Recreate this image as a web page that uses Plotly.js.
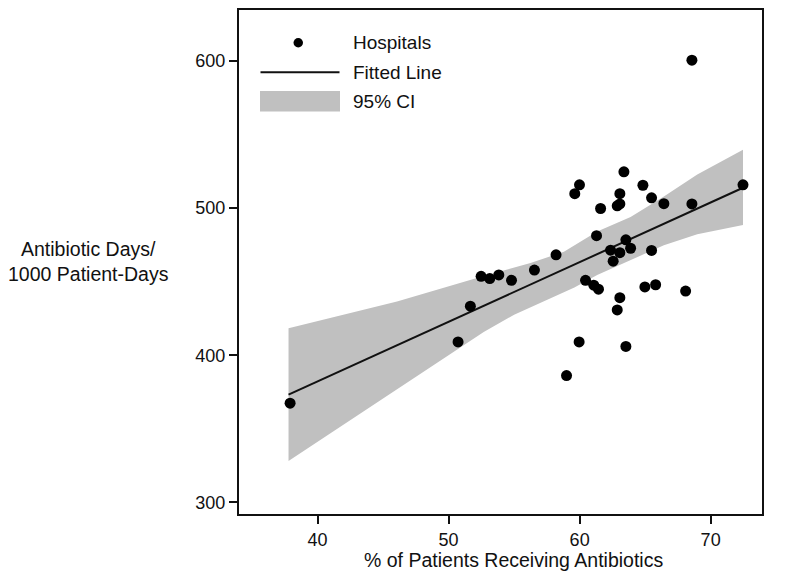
<!DOCTYPE html>
<html>
<head>
<meta charset="utf-8">
<script src="https://cdn.plot.ly/plotly-3.0.1.min.js"></script>
<style>
  html, body { margin: 0; padding: 0; background: #fff; }
  #chart { width: 800px; height: 580px; }
</style>
</head>
<body>
<div id="chart"></div>
<script>
// hospital points (% receiving antibiotics, antibiotic days / 1000 patient-days)
const hospX = [37.9, 50.72, 51.66, 52.48, 53.14, 53.83, 54.8, 56.55, 58.2, 59.0,
  59.63, 59.99, 59.96, 60.45, 61.08, 61.44, 61.29, 61.6, 62.36, 62.56,
  62.87, 63.07, 62.87, 63.07, 63.07, 63.38, 63.07, 63.53, 63.89, 63.53,
  64.83, 64.98, 65.49, 65.49, 65.8, 66.43, 68.09, 68.57, 68.57, 72.47];
const hospY = [367.4, 409, 433.3, 453.6, 452.1, 454.6, 450.9, 457.9, 468.2, 386.2,
  509.8, 515.8, 409, 450.9, 447.6, 444.9, 481.2, 499.7, 471.4, 463.9,
  430.8, 439.1, 501.5, 502.8, 509.8, 524.6, 469.7, 478.4, 472.7, 406.0,
  515.5, 446.4, 507.0, 471.2, 447.9, 503.0, 443.6, 600.5, 502.8, 515.8];

// fitted line end points
const fitX = [37.78, 72.47];
const fitY = [373.2, 513.8];

// 95% CI band edges
const ciUpX = [37.78, 46.06, 52.68, 56.25, 58.8, 61.34, 63.89, 66.43, 68.98, 72.47];
const ciUpY = [418.3, 436.5, 453.9, 462.7, 470.3, 484.0, 494.0, 507.8, 522.8, 539.6];
const ciLoX = [37.78, 43.51, 48.61, 52.68, 55.0, 57.5, 59.6, 61.34, 63.89, 66.43, 68.98, 72.47];
const ciLoY = [328.1, 361.9, 392.0, 415.8, 427.5, 437.5, 446.0, 454.6, 464.7, 474.7, 482.2, 488.5];

const legendLabels = ['Hospitals', 'Fitted Line', '95% CI'];

const FONT = '"Liberation Sans", Arial, Helvetica, sans-serif';
const INK = '#111';
const BAND = '#c0c0c0';

// plot box in pixels, used for the hand-made legend
const L = 239, R = 38, T = 10, B = 66;
const W = 800 - L - R, H = 580 - T - B;
const px = x => (x - L) / W;
const py = y => (580 - B - y) / H;

const bandTrace = {
  x: ciUpX.concat(ciLoX.slice().reverse()),
  y: ciUpY.concat(ciLoY.slice().reverse()),
  type: 'scatter', mode: 'lines',
  fill: 'toself', fillcolor: BAND,
  line: { width: 0, color: BAND },
  hoverinfo: 'skip'
};

const fitTrace = {
  x: fitX, y: fitY,
  type: 'scatter', mode: 'lines',
  line: { color: INK, width: 2 }
};

const pointTrace = {
  x: hospX, y: hospY,
  type: 'scatter', mode: 'markers',
  marker: { color: '#000', size: 11 }
};

const axisBase = {
  showgrid: false, zeroline: false,
  showline: true, linecolor: INK, linewidth: 2, mirror: true,
  ticks: 'outside', ticklen: 8, tickwidth: 2, tickcolor: INK,
  tickfont: { family: FONT, size: 18, color: INK }
};

// legend rows
const rowY = [42, 72, 101];
const shapes = [
  { type: 'circle', xref: 'paper', yref: 'paper',
    x0: px(293.5), x1: px(303), y0: py(47.5), y1: py(38),
    fillcolor: '#000', line: { width: 0 } },
  { type: 'line', xref: 'paper', yref: 'paper',
    x0: px(260.5), x1: px(339.5), y0: py(72.3), y1: py(72.3),
    line: { color: INK, width: 2 } },
  { type: 'rect', xref: 'paper', yref: 'paper',
    x0: px(260), x1: px(340), y0: py(111.5), y1: py(91),
    fillcolor: BAND, line: { width: 0 } }
];

const annotations = legendLabels.map((t, i) => ({
  text: t, xref: 'paper', yref: 'paper',
  x: px(351), y: py(rowY[i]), xanchor: 'left', yanchor: 'middle',
  showarrow: false, font: { family: FONT, size: 19, color: INK }
}));

annotations.push({
  text: 'Antibiotic Days/<br>1000 Patient-Days',
  xref: 'paper', yref: 'paper', x: px(88), y: py(261),
  xanchor: 'center', yanchor: 'middle', align: 'center',
  showarrow: false, font: { family: FONT, size: 19.5, color: INK }
});
annotations.push({
  text: '% of Patients Receiving Antibiotics',
  xref: 'paper', yref: 'paper', x: px(513), y: py(560),
  xanchor: 'center', yanchor: 'middle',
  showarrow: false, font: { family: FONT, size: 19.5, color: INK }
});

const layout = {
  width: 800, height: 580,
  margin: { l: L, r: R, t: T, b: B },
  paper_bgcolor: '#fff', plot_bgcolor: '#fff',
  showlegend: false,
  xaxis: { ...axisBase, range: [34.0, 73.92], tickvals: [40, 50, 60, 70] },
  yaxis: { ...axisBase, range: [292.1, 634.6], tickvals: [300, 400, 500, 600] },
  shapes: shapes,
  annotations: annotations
};

Plotly.newPlot('chart', [bandTrace, fitTrace, pointTrace], layout, { displayModeBar: false, staticPlot: true });
</script>
</body>
</html>
